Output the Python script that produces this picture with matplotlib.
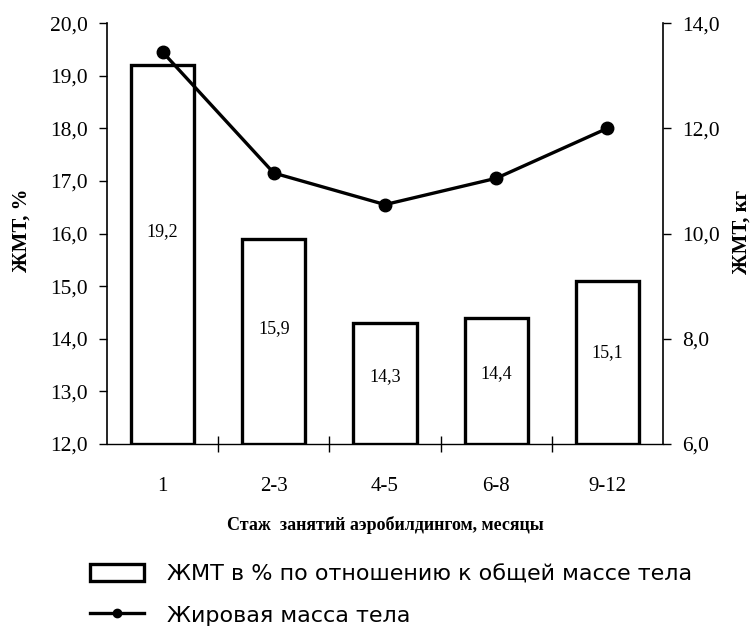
import matplotlib
matplotlib.use("Agg")
import matplotlib.pyplot as plt
from matplotlib.patches import Patch
from matplotlib.lines import Line2D
from matplotlib.ticker import FixedLocator, FuncFormatter

# Data
categories = ["1", "2-3", "4-5", "6-8", "9-12"]
fat_percent = [19.2, 15.9, 14.3, 14.4, 15.1]      # ЖМТ, % (bars, left axis)
fat_mass_kg = [13.45, 11.15, 10.55, 11.05, 12.0]  # ЖМТ, кг (line, right axis)
left_ticks = [12, 13, 14, 15, 16, 17, 18, 19, 20]
right_ticks = [6, 8, 10, 12, 14]

serif = ["Liberation Serif", "DejaVu Serif"]
sans = ["DejaVu Sans"]

fig = plt.figure(figsize=(7.56, 6.27), dpi=100)
ax = fig.add_axes([0.1415, 0.2919, 0.7355, 0.6713])
ax2 = ax.twinx()

x = list(range(len(categories)))

def comma(v, pos=None):
    return f"{v:.1f}".replace(".", ",")

# Bars
ax.bar(x, [v - 12 for v in fat_percent], bottom=12, width=0.57,
       facecolor="white", edgecolor="black", linewidth=2.4, zorder=2)
for xi, v in zip(x, fat_percent):
    ax.text(xi, 12 + (v - 12) * 0.56, comma(v), ha="center", va="center",
            fontsize=13, family=serif, color="black", zorder=3)

ax.set_xlim(-0.5, len(categories) - 0.5)
ax.set_ylim(12, 20)
ax.yaxis.set_major_locator(FixedLocator(left_ticks))
ax.yaxis.set_major_formatter(FuncFormatter(comma))
ax.set_xticks(x)
ax.set_xticklabels(categories)
ax.set_xticks([i + 0.5 for i in x[:-1]], minor=True)
ax.tick_params(axis="x", which="major", length=0, pad=24, labelsize=15)
ax.tick_params(axis="x", which="minor", length=12, direction="inout", width=1)
ax.tick_params(axis="y", which="major", length=6, width=1, direction="out",
               labelsize=15.5, pad=8)
for lbl in ax.get_xticklabels() + ax.get_yticklabels():
    lbl.set_family(serif)

for side in ["top", "right"]:
    ax.spines[side].set_visible(False)
ax.spines["left"].set_linewidth(1.2)
ax.spines["bottom"].set_linewidth(1.0)

# Line on the right axis
ax2.plot(x, fat_mass_kg, color="black", linewidth=2.4, marker="o",
         markersize=9, zorder=4)
ax2.set_ylim(6, 14)
ax2.yaxis.set_major_locator(FixedLocator(right_ticks))
ax2.yaxis.set_major_formatter(FuncFormatter(comma))
ax2.tick_params(axis="y", length=6, width=1, direction="out",
                labelsize=15.5, pad=8)
for lbl in ax2.get_yticklabels():
    lbl.set_family(serif)
for side in ["top", "left", "bottom"]:
    ax2.spines[side].set_visible(False)
ax2.spines["right"].set_linewidth(1.2)

# Axis titles
fig.text(0.029, 0.633, "ЖМТ, %", rotation=90, ha="center", va="center",
         fontsize=15, fontweight="bold", family=serif)
fig.text(0.981, 0.630, "ЖМТ, кг", rotation=90, ha="center", va="center",
         fontsize=15, fontweight="bold", family=serif)
fig.text(0.51, 1 - 525 / 627, "Стаж  занятий аэробилдингом, месяцы",
         ha="center", va="center", fontsize=13, fontweight="bold",
         family=serif)

# Legend
handles = [
    Patch(facecolor="white", edgecolor="black", linewidth=2.4),
    Line2D([0], [0], color="black", linewidth=2.4, marker="o", markersize=6),
]
labels = ["ЖМТ в % по отношению к общей массе тела", "Жировая масса тела"]
fig.legend(handles, labels, loc="upper left",
           bbox_to_anchor=(90 / 756, 1 - 564 / 627), frameon=False,
           prop={"family": sans, "size": 16}, handlelength=2.45,
           handleheight=0.8, handletextpad=1.0, labelspacing=0.95,
           borderpad=0, borderaxespad=0)

fig.savefig("out.png", dpi=100, facecolor="white")
